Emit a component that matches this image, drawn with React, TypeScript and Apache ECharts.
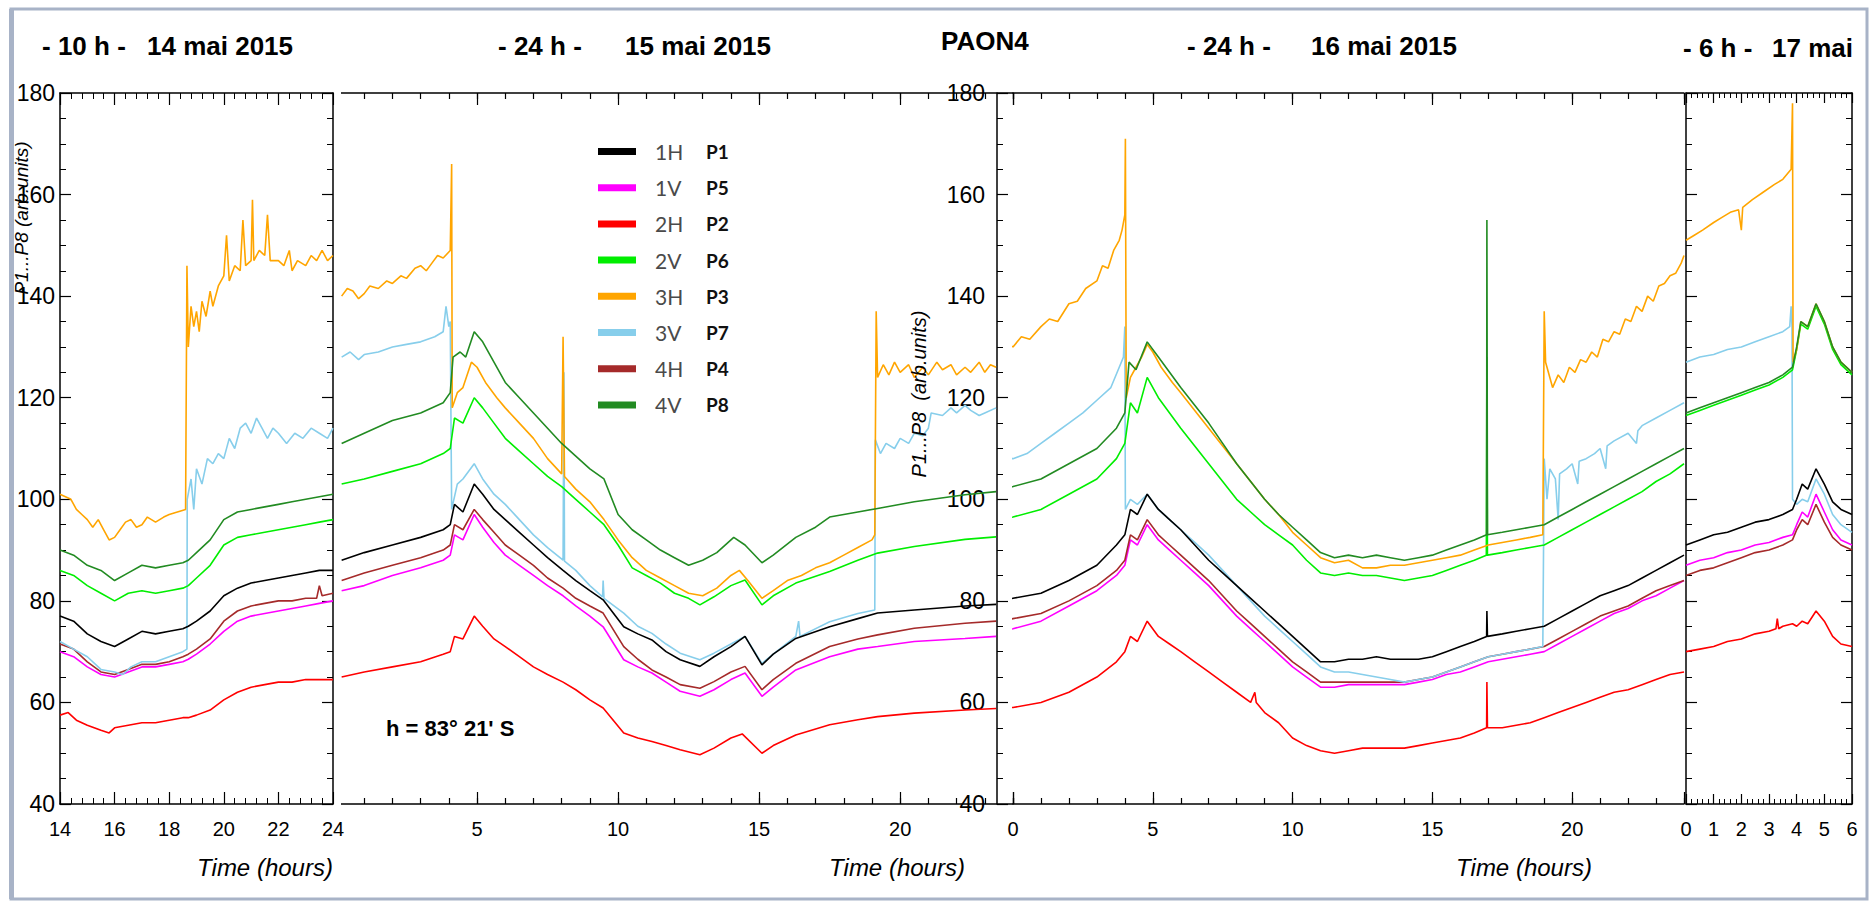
import React, { useEffect, useRef } from "react";
import * as echarts from "echarts";

// ---------- legend / series identity ----------
const KEYS = ["1H", "1V", "2H", "2V", "3H", "3V", "4H", "4V"];
const PNAMES: Record<string, string> = { "1H": "P1", "1V": "P5", "2H": "P2", "2V": "P6", "3H": "P3", "3V": "P7", "4H": "P4", "4V": "P8" };
const COLORS: Record<string, string> = {
  "1H": "#000000", "1V": "#ff00ff", "2H": "#ff0000", "2V": "#00ee00",
  "3H": "#ffa500", "3V": "#87ceeb", "4H": "#a52a2a", "4V": "#228b22",
};
const DRAW_ORDER = ["2H", "1V", "4H", "3V", "1H", "2V", "3H", "4V"];

// ---------- axis ticks ----------
const Y_MIN = 40, Y_MAX = 180, Y_STEP = 20;
const P1_RANGE = [14, 24], P2_RANGE = [0, 24], P3_RANGE = [0, 24], P4_RANGE = [0, 6];

// ---------- panel 1 : 14 mai (hours 14-24) ----------
const p1_3H: [number, number][] = [[14,101],[14.2,100.5],[14.4,100],[14.6,98],[14.8,97],[15,96],[15.2,94.5],[15.4,96],[15.6,94],[15.8,92],[16,92.5],[16.2,94],[16.4,95.5],[16.6,96],[16.8,94.5],[17,95],[17.2,96.5],[17.5,95.5],[17.8,96.5],[18,97],[18.3,97.5],[18.6,98],[18.65,146],[18.7,130],[18.8,138],[18.9,134],[19,137],[19.1,133],[19.2,139],[19.35,136],[19.5,141],[19.6,138],[19.8,142],[20,144],[20.1,152],[20.2,143],[20.4,146],[20.6,145],[20.7,155],[20.8,146],[21,147],[21.05,159],[21.1,147],[21.3,149],[21.5,148],[21.6,156],[21.7,147],[22,147],[22.2,146],[22.4,149],[22.5,145],[22.7,147],[23,146],[23.2,148],[23.4,147],[23.6,149],[23.8,147],[24,148]];
const p1_3V: [number, number][] = [[14,72],[14.5,70.5],[15,69],[15.5,66.5],[16,66],[16.3,65.5],[16.6,67],[17,68],[17.5,68],[18,69],[18.5,70],[18.65,70.5],[18.66,100],[18.8,104],[18.9,98],[19,106],[19.2,103],[19.4,108],[19.6,107],[19.8,109],[20,108],[20.2,112],[20.4,110],[20.6,114],[20.8,115],[21,113],[21.2,116],[21.4,114],[21.6,112],[21.8,114],[22,113],[22.3,111],[22.6,113],[22.9,112],[23.2,114],[23.5,113],[23.8,112],[24,114]];
const p1_4V: [number, number][] = [[14,90],[14.5,89],[15,87],[15.5,86],[16,84],[16.5,85.5],[17,87],[17.5,86.5],[18,87],[18.5,87.5],[18.7,88],[19,89.5],[19.5,92],[20,96],[20.5,97.5],[21,98],[21.5,98.5],[22,99],[22.5,99.5],[23,100],[23.5,100.5],[24,101]];
const p1_2V: [number, number][] = [[14,86],[14.5,85],[15,83],[15.5,81.5],[16,80],[16.5,81.5],[17,82],[17.5,81.5],[18,82],[18.5,82.5],[18.7,83],[19,84.5],[19.5,87],[20,91],[20.5,92.5],[21,93],[21.5,93.5],[22,94],[22.5,94.5],[23,95],[23.5,95.5],[24,96]];
const p1_1H: [number, number][] = [[14,77],[14.5,76],[15,73.5],[15.5,72],[16,71],[16.5,72.5],[17,74],[17.5,73.5],[18,74],[18.5,74.5],[18.7,75],[19,76],[19.5,78],[20,81],[20.5,82.5],[21,83.5],[21.5,84],[22,84.5],[22.5,85],[23,85.5],[23.5,86],[24,86]];
const p1_1V: [number, number][] = [[14,70],[14.5,69],[15,67],[15.5,65.5],[16,65],[16.5,66],[17,67],[17.5,67],[18,67.5],[18.5,68],[18.7,68.5],[19,69.5],[19.5,71.5],[20,74],[20.5,76],[21,77],[21.5,77.5],[22,78],[22.5,78.5],[23,79],[23.5,79.5],[24,80]];
const p1_4H: [number, number][] = [[14,71.5],[14.5,70.5],[15,68],[15.5,66],[16,65.5],[16.5,66.5],[17,67.5],[17.5,67.5],[18,68],[18.5,69],[18.7,69.5],[19,70.5],[19.5,72.5],[20,76],[20.5,78],[21,79],[21.5,79.5],[22,80],[22.5,80],[23,80.5],[23.4,80.5],[23.5,83],[23.6,81],[24,81.5]];
const p1_2H: [number, number][] = [[14,57.5],[14.3,58],[14.6,56.5],[15,55.5],[15.5,54.5],[15.8,54],[16,55],[16.5,55.5],[17,56],[17.5,56],[18,56.5],[18.5,57],[18.7,57],[19,57.5],[19.5,58.5],[20,60.5],[20.5,62],[21,63],[21.5,63.5],[22,64],[22.5,64],[23,64.5],[23.5,64.5],[24,64.5]];

// ---------- panel 2 : 15 mai (hours 0-24) ----------
const p2_3H: [number, number][] = [[0.2,140],[0.4,141.5],[0.6,141],[0.8,139.5],[1,140.5],[1.2,142],[1.5,141.5],[1.8,143],[2,142.5],[2.3,144],[2.5,143.5],[2.8,145.5],[3,146],[3.2,145],[3.4,146.5],[3.6,148],[3.8,147.5],[4.05,149],[4.1,166],[4.12,118],[4.3,121],[4.5,122],[4.8,127],[5,126],[5.3,123],[5.7,120],[6,118],[6.5,115],[7,112],[7.5,108],[8,105],[8.05,132],[8.1,104.5],[8.5,102],[9,99.5],[9.5,96],[10,92],[10.5,88.5],[11,86],[11.5,84.5],[12,83],[12.5,81.5],[13,81],[13.5,82.5],[14,85],[14.3,86],[14.6,84],[15.1,80.5],[15.5,82],[16,84],[16.5,85],[17,86.5],[17.5,87.5],[18,89],[18.5,90.5],[19,92],[19.1,93],[19.15,137],[19.2,124],[19.4,126.5],[19.6,124.5],[19.8,127],[20,125],[20.3,126.5],[20.5,124],[20.8,126],[21,124.5],[21.3,127],[21.5,125.5],[21.8,126.5],[22,124.5],[22.3,126],[22.5,125],[22.8,127],[23,125],[23.2,126.5],[23.4,126]];
const p2_4V: [number, number][] = [[0.2,111],[1,113],[2,115.5],[3,117],[3.8,119],[4.05,121],[4.15,128],[4.4,129],[4.6,128],[4.9,133],[5.2,131],[5.6,127],[6,123],[6.5,120],[7,117],[7.5,114],[8,111],[8.5,108.5],[9,106],[9.5,104],[10,97],[10.5,94],[11,92],[11.5,90],[12,88.5],[12.5,87],[13,88],[13.5,89.5],[14.1,92.5],[14.5,91],[15.1,87.5],[15.5,89],[16.3,92.5],[17,94.5],[17.5,96.5],[18.5,97.5],[19.2,98.2],[20.5,99.5],[22.3,100.9],[23.4,101.5]];
const p2_2V: [number, number][] = [[0.2,103],[1,104],[2,105.5],[3,107],[3.8,109],[4.05,110],[4.2,116],[4.5,115],[4.9,120],[5.2,118],[5.6,115],[6,112],[6.5,109.5],[7,107],[7.5,104.5],[8,102.5],[8.5,100],[9,97.5],[9.5,95],[10,91],[10.5,86.5],[11,85],[11.5,83.5],[12,81.5],[12.5,80.5],[12.9,79.2],[13.4,80.8],[14,83],[14.5,84.1],[15.1,79.2],[15.5,81],[16.3,83.5],[17.5,85.8],[18.5,88],[19.2,89.4],[20.5,90.7],[22.3,92.1],[23.4,92.6]];
const p2_3V: [number, number][] = [[0.2,128],[0.5,129],[0.8,127.5],[1,128.5],[1.5,129],[2,130],[2.5,130.5],[3,131],[3.5,132],[3.8,133],[3.9,138],[4.0,134],[4.05,135],[4.1,98],[4.3,103],[4.5,104],[4.9,107],[5.2,104],[5.6,101],[6,99],[6.5,96],[7,93],[7.5,90.5],[8.05,88],[8.08,125],[8.1,87.8],[8.5,86],[9,83],[9.45,80.8],[9.47,84],[9.5,80.5],[10.2,77.6],[10.7,75],[11.2,73.6],[11.7,71.5],[12.2,69.7],[12.9,68.4],[13.4,69.7],[14,71.5],[14.5,73],[15.1,67.7],[15.5,69.5],[16.3,73],[16.4,76],[16.45,73],[17.5,75.9],[18.5,77.5],[19.1,78.2],[19.12,111.7],[19.3,109],[19.5,111],[19.8,110],[20,112],[20.3,111],[20.5,113],[20.8,112.5],[21,114],[21.1,117],[21.5,116.5],[21.8,118],[22,117],[22.3,118.5],[22.5,117.5],[22.8,116.5],[23,117],[23.4,118]];
const p2_1H: [number, number][] = [[0.2,88],[1,89.5],[2,91],[3,92.5],[3.8,94],[4.05,95],[4.2,99],[4.5,97.5],[4.9,103],[5.2,101],[5.6,98],[6,96],[6.5,93.5],[7,91],[7.5,88.5],[8.05,86],[8.5,84],[9,82],[9.47,80.2],[10.2,74.9],[10.7,73.5],[11.2,72.3],[11.7,70],[12.2,68.4],[12.9,67.1],[13.4,69],[14,71],[14.5,73],[15.1,67.4],[15.5,69.5],[16.3,72.6],[17.5,74.9],[18.5,76.5],[19.2,77.6],[20.5,78.2],[22.3,79],[23.4,79.3]];
const p2_4H: [number, number][] = [[0.2,84],[1,85.5],[2,87],[3,88.5],[3.8,90],[4.05,91],[4.2,95],[4.5,94],[4.9,98],[5.2,96],[5.6,93.5],[6,91],[6.5,89],[7,87],[7.5,84.5],[8.05,82.5],[8.5,80.5],[9,79],[9.47,77.6],[10.2,71],[10.7,68.5],[11.2,66.4],[11.7,65],[12.2,63.5],[12.9,62.8],[13.4,64.1],[14,66],[14.5,67.1],[15.1,62.5],[15.5,64.5],[16.3,67.7],[17.5,71],[18.5,72.5],[19.2,73.3],[20.5,74.6],[22.3,75.6],[23.4,76]];
const p2_1V: [number, number][] = [[0.2,82],[1,83],[2,85],[3,86.5],[3.8,88],[4.05,89],[4.2,93],[4.5,92],[4.9,97],[5.2,94.5],[5.6,91.5],[6,89],[6.5,87],[7,85],[7.5,83],[8.05,81],[8.5,79],[9,77],[9.47,74.9],[10.2,68.4],[10.7,67],[11.2,65.8],[11.7,64],[12.2,62.2],[12.9,61.2],[13.4,62.5],[14,64.5],[14.5,65.8],[15.1,61.2],[15.5,63],[16.3,66.4],[17.5,69],[18.5,70.5],[19.2,71],[20.5,72],[22.3,72.6],[23.4,73]];
const p2_2H: [number, number][] = [[0.2,65],[1,66],[2,67],[3,68],[3.8,69.5],[4.05,70],[4.2,73],[4.5,72.5],[4.9,77],[5.2,75],[5.6,72.5],[6,71],[6.5,69],[7,67],[7.5,65.5],[8.05,64],[8.5,62.5],[9,60.5],[9.47,58.9],[10.2,54],[10.7,53],[11.2,52.3],[11.7,51.5],[12.2,50.7],[12.9,49.7],[13.4,51],[14,53],[14.4,53.8],[15.1,50],[15.5,51.5],[16.3,53.6],[17.5,55.6],[18.5,56.6],[19.2,57.2],[20.5,57.9],[22.3,58.5],[23.4,58.8]];

// ---------- panel 3 : 16 mai (hours 0-24) ----------
const p3_3H: [number, number][] = [[-0.5,129],[-0.3,131],[0,130],[0.3,132],[0.6,131.5],[1,134],[1.3,135.5],[1.6,135],[2,138.5],[2.3,139],[2.6,141.5],[3,143],[3.2,146],[3.4,145.5],[3.6,149],[3.8,151],[3.9,153],[4.0,156],[4.02,171],[4.05,120],[4.2,124],[4.4,126],[4.6,128],[4.8,130.5],[5,129],[5.3,126],[5.7,123],[6,121],[6.5,117.5],[7,114],[7.5,110.5],[8,107],[8.5,103.5],[9,100],[9.5,97],[10,93.5],[10.5,91],[11,88.5],[11.5,87.5],[12,88],[12.5,86.5],[13,86.5],[13.5,87],[14,87],[14.5,87.5],[15,88],[15.5,88.5],[16,89],[16.5,90],[17,91],[17.5,91.5],[18,92],[18.5,92.5],[18.95,93],[19,137],[19.05,127],[19.3,122],[19.5,124.5],[19.7,123],[19.9,126],[20.1,125],[20.3,127.5],[20.5,127],[20.7,129],[20.9,128],[21.1,131.5],[21.3,131],[21.5,133],[21.7,132.5],[21.9,135.5],[22.1,135],[22.3,138],[22.5,137],[22.7,140],[22.9,139],[23.1,142],[23.3,142.5],[23.5,144],[23.7,144.5],[23.9,146.5],[24,148]];
const p3_4V: [number, number][] = [[-0.5,102],[0,102.5],[1,104],[2,107],[3,110],[3.7,114],[4.0,117],[4.15,127],[4.4,125.5],[4.8,131],[5.2,128],[5.6,125],[6,122],[6.5,118.5],[7,115],[7.5,111],[8,107],[8.5,103.5],[9,100],[9.5,97],[10,94.5],[10.5,92],[11,89.5],[11.5,88.5],[12,89],[12.5,88.5],[13,89],[13.5,88.5],[14,88],[14.5,88.5],[15,89],[15.5,90],[16,91],[16.5,92],[16.94,93],[16.95,155],[16.97,93],[17.5,93.5],[18,94],[18.5,94.5],[19,95],[19.5,96.5],[20,98],[20.5,99.5],[21,101],[21.5,102.5],[22,104],[22.5,105.5],[23,107],[23.5,108.5],[24,110]];
const p3_2V: [number, number][] = [[-0.5,96],[0,96.5],[1,98],[2,101],[3,104],[3.7,108],[4.0,111],[4.2,119],[4.45,117],[4.8,124],[5.2,120],[5.6,117],[6,114],[6.5,110.5],[7,107],[7.5,103.5],[8,100],[8.5,97.5],[9,95],[9.5,93],[10,91],[10.5,88],[11,85.5],[11.5,85],[12,85.5],[12.5,85],[13,85],[13.5,84.5],[14,84],[14.5,84.5],[15,85],[15.5,86],[16,87],[16.5,88],[16.93,89],[16.95,128],[16.97,89],[17.5,89.5],[18,90],[18.5,90.5],[19,91],[19.5,92.5],[20,94],[20.5,95.5],[21,97],[21.5,98.5],[22,100],[22.5,101.5],[23,103.5],[23.5,105],[24,107]];
const p3_3V: [number, number][] = [[-0.5,113],[-0.45,120],[-0.4,108],[0,108],[0.5,109],[1,111],[1.5,113],[2,115],[2.5,117],[3,119.5],[3.5,122],[3.8,126],[3.95,128],[4.0,134],[4.02,98],[4.2,100],[4.45,99],[4.8,101],[5.2,98],[5.6,96],[6,94],[6.5,91.5],[7,89],[7.5,86],[8,83],[8.5,80],[9,77],[9.5,74.5],[10,72],[10.5,69.5],[11,67],[11.5,66],[12,66],[12.5,65.5],[13,65],[13.5,64.5],[14,64],[14.5,64.5],[15,65],[15.5,66],[16,67],[16.5,68],[17,69],[17.5,69.5],[18,70],[18.5,70.5],[18.95,71],[19,108],[19.1,100],[19.2,106],[19.4,104],[19.5,96],[19.55,105],[19.8,106],[20,107],[20.2,103],[20.25,107.5],[20.5,108],[20.8,109],[21,110],[21.2,106],[21.25,110.5],[21.5,111.5],[22,113],[22.3,111],[22.35,113.5],[22.5,114.5],[23,116],[23.5,117.5],[24,119]];
const p3_1H: [number, number][] = [[-0.5,80],[0,80.5],[1,81.5],[2,84],[3,87],[3.7,91],[4.0,93],[4.2,98],[4.45,97],[4.8,101],[5.2,98],[5.6,96],[6,94],[6.5,91],[7,88],[7.5,85.5],[8,83],[8.5,80.5],[9,78],[9.5,75.5],[10,73],[10.5,70.5],[11,68],[11.5,68],[12,68.5],[12.5,68.5],[13,69],[13.5,68.5],[14,68.5],[14.5,68.5],[15,69],[15.5,70],[16,71],[16.5,72],[16.94,73],[16.95,78],[16.97,73],[17.5,73.5],[18,74],[18.5,74.5],[19,75],[19.5,76.5],[20,78],[20.5,79.5],[21,81],[21.5,82],[22,83],[22.5,84.5],[23,86],[23.5,87.5],[24,89]];
const p3_4H: [number, number][] = [[-0.5,76],[0,76.5],[1,77.5],[2,80],[3,83],[3.7,86],[4.0,88],[4.2,93],[4.45,92],[4.8,96],[5.2,93],[5.6,91],[6,89],[6.5,86.5],[7,84],[7.5,81],[8,78],[8.5,75.5],[9,73],[9.5,70.5],[10,68],[10.5,66],[11,64],[11.5,64],[12,64],[12.5,64],[13,64],[13.5,64],[14,64],[14.5,64.5],[15,65],[15.5,66],[16,67],[16.5,68],[17,69],[17.5,69.5],[18,70],[18.5,70.5],[19,71],[19.5,72.5],[20,74],[20.5,75.5],[21,77],[21.5,78],[22,79],[22.5,80.5],[23,82],[23.5,83],[24,84]];
const p3_1V: [number, number][] = [[-0.5,74],[0,74.5],[1,76],[2,79],[3,82],[3.7,85],[4.0,87],[4.2,92],[4.45,91],[4.8,95],[5.2,92],[5.6,90],[6,88],[6.5,85.5],[7,83],[7.5,80],[8,77],[8.5,74.5],[9,72],[9.5,69.5],[10,67],[10.5,65],[11,63],[11.5,63],[12,63.5],[12.5,63.5],[13,63.5],[13.5,63.5],[14,63.5],[14.5,64],[15,64.5],[15.5,65.5],[16,66],[16.5,67],[17,68],[17.5,68.5],[18,69],[18.5,69.5],[19,70],[19.5,71.5],[20,73],[20.5,74.5],[21,76],[21.5,77.5],[22,78.5],[22.5,80],[23,81],[23.5,82.5],[24,84]];
const p3_2H: [number, number][] = [[-0.5,59],[0,59],[1,60],[2,62],[3,65],[3.7,68],[4.0,70],[4.2,73],[4.45,72],[4.8,76],[5.2,73],[5.6,71.5],[6,70],[6.5,68],[7,66],[7.5,64],[8,62],[8.5,60],[8.65,62],[8.7,60],[9,58],[9.5,56],[10,53],[10.5,51.5],[11,50.5],[11.5,50],[12,50.5],[12.5,51],[13,51],[13.5,51],[14,51],[14.5,51.5],[15,52],[15.5,52.5],[16,53],[16.5,54],[16.94,55],[16.95,64],[16.97,55],[17.5,55],[18,55.5],[18.5,56],[19,57],[19.5,58],[20,59],[20.5,60],[21,61],[21.5,62],[22,62.5],[22.5,63.5],[23,64.5],[23.5,65.5],[24,66]];

// ---------- panel 4 : 17 mai (hours 0-6) ----------
const p4_3H: [number, number][] = [[0,151],[0.3,152],[0.6,153],[1,154.5],[1.3,155.5],[1.6,156.5],[1.9,157],[2.0,153],[2.05,157.5],[2.4,159],[2.8,160.5],[3.2,162],[3.5,163],[3.8,165],[3.85,178],[3.87,127],[4.0,129.5],[4.15,135],[4.4,134],[4.7,138.5],[5.0,135],[5.3,130],[5.6,127],[6,125]];
const p4_4V: [number, number][] = [[0,117],[0.5,118],[1,119],[1.5,120],[2,121],[2.5,122],[3,123],[3.5,124.5],[3.85,126],[4.0,130],[4.15,135],[4.4,134],[4.7,138.5],[5.0,135],[5.3,130],[5.6,127],[6,125]];
const p4_2V: [number, number][] = [[0,116.5],[0.5,117.5],[1,118.5],[1.5,119.5],[2,120.5],[2.5,121.5],[3,122.5],[3.5,124],[3.85,125.5],[4.0,129.5],[4.15,134.5],[4.4,133.5],[4.7,138],[5.0,134.5],[5.3,129.5],[5.6,126.5],[6,124.5]];
const p4_3V: [number, number][] = [[0,127],[0.5,128],[1,128.5],[1.5,129.5],[2,130],[2.5,131],[3,132],[3.5,133],[3.75,134],[3.8,138],[3.83,134],[3.85,100],[4.0,99],[4.2,100],[4.4,99.5],[4.7,104],[5.0,101],[5.3,97],[5.6,95],[6,93.5]];
const p4_1H: [number, number][] = [[0,91],[0.5,92],[1,93],[1.5,93.5],[2,94.5],[2.5,95.5],[3,96],[3.5,97],[3.85,98],[4.0,100],[4.2,103],[4.4,102],[4.7,106],[5.0,103],[5.3,99.5],[5.6,98],[6,97]];
const p4_1V: [number, number][] = [[0,87],[0.5,88],[1,88.5],[1.5,89.5],[2,90],[2.5,91],[3,91.5],[3.5,92.5],[3.85,93],[4.0,95],[4.2,97.5],[4.4,96.5],[4.7,101],[5.0,97.5],[5.3,94],[5.6,92],[6,91]];
const p4_4H: [number, number][] = [[0,85],[0.5,86],[1,86.5],[1.5,87.5],[2,88.5],[2.5,89.5],[3,90],[3.5,91],[3.85,92],[4.0,94],[4.2,96],[4.4,95],[4.7,99],[5.0,95.5],[5.3,92.5],[5.6,91],[6,90]];
const p4_2H: [number, number][] = [[0,70],[0.5,70.5],[1,71],[1.5,72],[2,72.5],[2.5,73.5],[3,74],[3.25,74.5],[3.3,76.5],[3.35,74.5],[3.5,75],[3.85,75.5],[4.0,75],[4.2,76],[4.4,75.5],[4.7,78],[5.0,76],[5.3,73],[5.6,71.5],[6,71]];

const PANEL_DATA: Record<string, [number, number][]>[] = [
  { "1H": p1_1H, "1V": p1_1V, "2H": p1_2H, "2V": p1_2V, "3H": p1_3H, "3V": p1_3V, "4H": p1_4H, "4V": p1_4V },
  { "1H": p2_1H, "1V": p2_1V, "2H": p2_2H, "2V": p2_2V, "3H": p2_3H, "3V": p2_3V, "4H": p2_4H, "4V": p2_4V },
  { "1H": p3_1H, "1V": p3_1V, "2H": p3_2H, "2V": p3_2V, "3H": p3_3H, "3V": p3_3V, "4H": p3_4H, "4V": p3_4V },
  { "1H": p4_1H, "1V": p4_1V, "2H": p4_2H, "2V": p4_2V, "3H": p4_3H, "3V": p4_3V, "4H": p4_4H, "4V": p4_4V },
];

// ---------- layout ----------
const TOP = 93, H = 711;
const GRIDS = [
  { left: 60, top: TOP, width: 273, height: H },
  { left: 336, top: TOP, width: 677, height: H },
  { left: 1013, top: TOP, width: 671, height: H },
  { left: 1686, top: TOP, width: 166, height: H },
];
const FONT = '"Liberation Sans", Arial, sans-serif';
const BLACK_LINE = { color: "#000", width: 1.5 };

function xAxis(grid: number, pos: "top" | "bottom", range: number[], interval: number, o: any) {
  return {
    type: "value", gridIndex: grid, position: pos, min: range[0], max: range[1], interval,
    axisLine: { show: o.line !== false, onZero: false, lineStyle: BLACK_LINE },
    axisTick: { show: true, inside: true, length: o.tick, lineStyle: { color: "#000", width: 1.2 } },
    minorTick: o.minor ? { show: true, splitNumber: o.minor, length: o.minorLen, lineStyle: { color: "#000", width: 1 } } : { show: false },
    axisLabel: o.labels
      ? { show: true, fontSize: 20, fontFamily: FONT, color: "#000", margin: 15, formatter: o.fmt, hideOverlap: false }
      : { show: false },
    splitLine: { show: false },
  };
}

function yAxis(grid: number, pos: "left" | "right", o: any) {
  return {
    type: "value", gridIndex: grid, position: pos, min: Y_MIN, max: Y_MAX, interval: Y_STEP,
    offset: o.offset || 0,
    show: o.show !== false,
    axisLine: { show: true, onZero: false, lineStyle: BLACK_LINE },
    axisTick: { show: true, inside: true, length: 11, lineStyle: { color: "#000", width: 1.2 } },
    minorTick: { show: true, splitNumber: 4, length: 6, lineStyle: { color: "#000", width: 1 } },
    axisLabel: o.labels
      ? { show: true, fontSize: 23, fontFamily: FONT, color: "#000", margin: o.margin }
      : { show: false },
    splitLine: { show: false },
  };
}

const fmt2 = (v: number) => (v > 0 && v < 24 && v % 5 === 0 ? String(v) : "");
const fmt3 = (v: number) => (v < 24 && v % 5 === 0 ? String(v) : "");

const X_AXES = [
  xAxis(0, "bottom", P1_RANGE, 2, { tick: 12, minor: 5, minorLen: 6, labels: true }),
  xAxis(0, "top", P1_RANGE, 2, { tick: 12, minor: 5, minorLen: 6 }),
  xAxis(1, "bottom", P2_RANGE, 1, { tick: 6 }),
  xAxis(1, "bottom", P2_RANGE, 5, { tick: 12, line: false, labels: true, fmt: fmt2 }),
  xAxis(1, "top", P2_RANGE, 1, { tick: 6 }),
  xAxis(1, "top", P2_RANGE, 5, { tick: 12, line: false }),
  xAxis(2, "bottom", P3_RANGE, 1, { tick: 6 }),
  xAxis(2, "bottom", P3_RANGE, 5, { tick: 12, line: false, labels: true, fmt: fmt3 }),
  xAxis(2, "top", P3_RANGE, 1, { tick: 6 }),
  xAxis(2, "top", P3_RANGE, 5, { tick: 12, line: false }),
  xAxis(3, "bottom", P4_RANGE, 1, { tick: 10, minor: 5, minorLen: 5, labels: true }),
  xAxis(3, "top", P4_RANGE, 1, { tick: 10, minor: 5, minorLen: 5 }),
];
const Y_AXES = [
  yAxis(0, "left", { labels: true, margin: 5 }),
  yAxis(0, "right", {}),
  yAxis(1, "left", { show: false }),
  yAxis(2, "left", { labels: true, margin: 12, offset: 16 }),
  yAxis(3, "left", {}),
  yAxis(3, "right", {}),
];
const PANEL_X = [0, 2, 6, 10];
const PANEL_Y = [0, 2, 3, 4];

function buildSeries() {
  const out: any[] = [];
  PANEL_DATA.forEach((pd, pi) => {
    DRAW_ORDER.forEach((k) => {
      out.push({
        type: "line", name: k, data: pd[k], xAxisIndex: PANEL_X[pi], yAxisIndex: PANEL_Y[pi],
        showSymbol: false, symbol: "none", clip: pi !== 2,
        color: COLORS[k], lineStyle: { color: COLORS[k], width: 1.6 },
        emphasis: { disabled: true }, silent: true,
      });
    });
  });
  return out;
}

const TITLE = `bold 26px ${FONT}`;
function txt(text: string, x: number, y: number, font: string, extra: any = {}) {
  return {
    type: "text", x, y, z: 50, silent: true, ...extra,
    style: { text, font, fill: "#000", textAlign: extra.align || "left", verticalAlign: "middle" },
  };
}

const option: any = {
  animation: false,
  backgroundColor: "#ffffff",
  grid: GRIDS.map((g) => ({ ...g, containLabel: false })),
  xAxis: X_AXES,
  yAxis: Y_AXES,
  legend: {
    show: true, data: KEYS, orient: "vertical", left: 593, top: 136,
    itemWidth: 38, itemHeight: 7, itemGap: 15.2, icon: "rect", selectedMode: false,
    formatter: (n: string) => `{a|${n}}{b|${PNAMES[n]}}`,
    textStyle: {
      rich: {
        a: { fontFamily: "Lato, sans-serif", fontSize: 21, color: "#4a4a4a", width: 51, padding: [0, 0, 0, 14], lineHeight: 22 },
        b: { fontFamily: "Lato, sans-serif", fontSize: 19, fontWeight: "bold", color: "#111", lineHeight: 22 },
      },
    },
  },
  series: buildSeries(),
  graphic: [
    { type: "rect", z: 60, silent: true, shape: { x: 11, y: 9, width: 1856, height: 890 }, style: { fill: "none", stroke: "#a8b3c7", lineWidth: 3 } },
    { type: "rect", z: 60, silent: true, shape: { x: 9, y: 9, width: 5, height: 890 }, style: { fill: "#a8b3c7" } },
    { type: "rect", z: 60, silent: true, shape: { x: 334.5, y: 84, width: 6.5, height: 730 }, style: { fill: "#ffffff" } },
    txt("- 10 h -", 42, 46, TITLE),
    txt("14 mai 2015", 147, 46, TITLE),
    txt("- 24 h -", 498, 46, TITLE),
    txt("15 mai 2015", 625, 46, TITLE),
    txt("PAON4", 941, 41, TITLE),
    txt("- 24 h -", 1187, 46, TITLE),
    txt("16 mai 2015", 1311, 46, TITLE),
    txt("- 6 h -", 1683, 48, TITLE),
    txt("17 mai", 1853, 48, TITLE, { align: "right" }),
    txt("Time (hours)", 265, 867, `italic 24px ${FONT}`, { align: "center" }),
    txt("Time (hours)", 897, 867, `italic 24px ${FONT}`, { align: "center" }),
    txt("Time (hours)", 1524, 867, `italic 24px ${FONT}`, { align: "center" }),
    txt("P1...P8 (arb.units)", 21, 218, `italic 19px ${FONT}`, { align: "center", rotation: Math.PI / 2 }),
    txt("P1...P8  (arb.units)", 919, 394, `italic 20px ${FONT}`, { align: "center", rotation: Math.PI / 2 }),
    txt("h = 83° 21' S", 386, 728, `bold 22px ${FONT}`),
  ],
};

export default function App() {
  const ref = useRef<HTMLDivElement>(null);
  useEffect(() => {
    if (!ref.current) return;
    const chart = echarts.init(ref.current, undefined, { renderer: "svg" });
    chart.setOption(option);
    return () => chart.dispose();
  }, []);
  return (
    <div
      ref={ref}
      style={{ position: "absolute", left: 0, top: 0, width: 1872, height: 904, background: "#ffffff" }}
    />
  );
}
